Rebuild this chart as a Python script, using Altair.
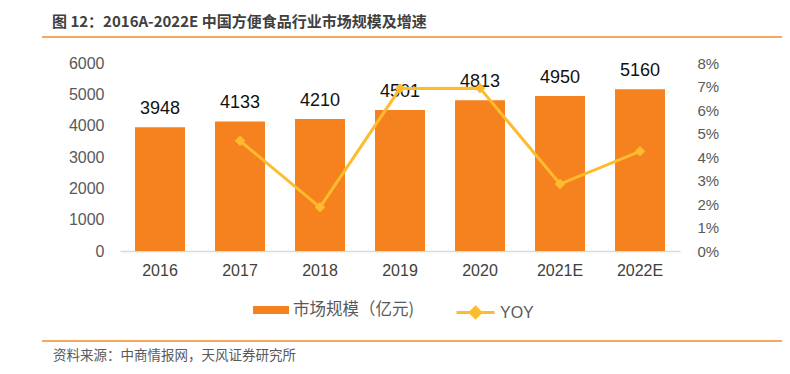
import altair as alt
import pandas as pd

years = ['2016', '2017', '2018', '2019', '2020', '2021E', '2022E']
market = [3948, 4133, 4210, 4501, 4813, 4950, 5160]
yoy = [None, 0.0469, 0.0186, 0.0691, 0.0693, 0.0285, 0.0424]
left_ticks = [0, 1000, 2000, 3000, 4000, 5000, 6000]
right_ticks = [0, 0.01, 0.02, 0.03, 0.04, 0.05, 0.06, 0.07, 0.08]

bar_label = '市场规模（亿元)'
line_label = 'YOY'
title_text = '图 12：2016A-2022E 中国方便食品行业市场规模及增速'
source_text = '资料来源：中商情报网，天风证券研究所'

FONT = 'Liberation Sans, Arial, Noto Sans CJK SC, sans-serif'
NARROW = 'Liberation Sans Narrow, Arial Narrow, Liberation Sans, sans-serif'
CJK = 'Noto Sans CJK SC, sans-serif'
ORANGE = '#F5821F'
YELLOW = '#FDBB2F'

df = pd.DataFrame({'year': years, 'market': market, 'yoy': yoy,
                   's1': bar_label, 's2': line_label})
one = pd.DataFrame({'k': [0]})

x = alt.X('year:N', sort=years,
          scale=alt.Scale(paddingInner=0.375, paddingOuter=0.1875),
          axis=alt.Axis(title=None, labelAngle=0, ticks=False, domainColor='#d9d9d9',
                        domainWidth=1.5, labelPadding=11, labelFontSize=16,
                        labelColor='#404040', labelFont=FONT))

y_left = alt.Y('market:Q', scale=alt.Scale(domain=[0, 6000]),
               axis=alt.Axis(values=left_ticks, format='d', title=None, ticks=False,
                             domain=False, grid=False, labelOverlap=False,
                             labelPadding=16, labelFontSize=16,
                             labelColor='#595959', labelFont=FONT))

bars = alt.Chart(df).mark_bar().encode(
    x=x, y=y_left,
    fill=alt.Fill('s1:N', scale=alt.Scale(domain=[bar_label], range=[ORANGE]),
                  legend=alt.Legend(title=None, orient='none', legendX=133, legendY=229,
                                    symbolType='M-1,-0.22H1V0.22H-1Z', symbolSize=1296,
                                    symbolStrokeWidth=0, labelFontSize=16.5,
                                    labelColor='#595959', labelOffset=4, labelFont=CJK,
                                    labelLimit=300, padding=0))
)
labels = alt.Chart(df).mark_text(baseline='bottom', dy=-9, fontSize=18, color='#111111',
                                 font=FONT).encode(x=x, y=y_left, text='market:Q')
left = alt.layer(bars, labels)

y_right = alt.Y('yoy:Q', scale=alt.Scale(domain=[0, 0.08]),
                axis=alt.Axis(orient='right', values=right_ticks, format='.0%', title=None,
                              ticks=False, domain=False, grid=False, labelOverlap=False,
                              labelPadding=17, labelFontSize=15, labelColor='#595959',
                              labelFont=NARROW))

line = alt.Chart(df).transform_filter('datum.yoy != null').mark_line(strokeWidth=3).encode(
    x=x, y=y_right,
    stroke=alt.Stroke('s2:N', scale=alt.Scale(domain=[line_label], range=[YELLOW]),
                      legend=alt.Legend(title=None, orient='none', legendX=335, legendY=229,
                                        symbolType='M-1,0H1M0,-0.27L0.27,0L0,0.27L-0.27,0Z',
                                        symbolSize=1444, symbolStrokeWidth=3,
                                        symbolFillColor=YELLOW, labelFontSize=16,
                                        labelColor='#595959', labelOffset=4, labelFont=FONT,
                                        padding=0))
)
points = alt.Chart(df).transform_filter('datum.yoy != null').mark_point(
    shape='diamond', filled=True, size=110, color=YELLOW, opacity=1).encode(x=x, y=y_right)
right = alt.layer(line, points)

title = alt.Chart(one).mark_text(text=title_text, align='left', baseline='middle',
                                 fontSize=15, fontWeight='bold', color='#404040',
                                 font=CJK).encode(x=alt.value(-68), y=alt.value(-41))
top_rule = alt.Chart(one).mark_rule(color='#F28C28', strokeWidth=1.5).encode(
    x=alt.value(-78), x2=alt.value(670), y=alt.value(-26))
bottom_rule = alt.Chart(one).mark_rule(color='#F28C28', strokeWidth=1.5).encode(
    x=alt.value(-78), x2=alt.value(670), y=alt.value(278))
footer = alt.Chart(one).mark_text(text=source_text, align='left', baseline='middle',
                                  fontSize=13.5, color='#595959', font=CJK).encode(
    x=alt.value(-67), y=alt.value(293))

chart = alt.layer(left, right, title, top_rule, bottom_rule, footer).resolve_scale(
    y='independent', fill='independent', stroke='independent'
).properties(
    width=560, height=188,
    autosize=alt.AutoSizeParams(type='none'),
    padding={'left': 112, 'top': 55, 'right': 102, 'bottom': 115},
    background='white'
).configure_view(stroke=None)

chart.save('out.html', embed_options={'renderer': 'svg', 'actions': False})
